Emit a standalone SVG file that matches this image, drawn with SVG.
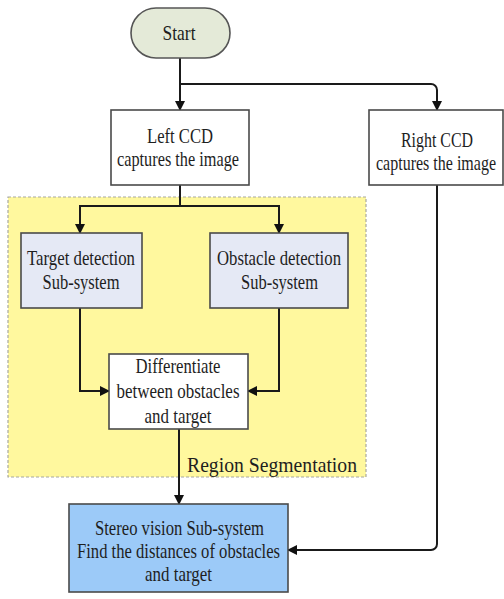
<svg xmlns="http://www.w3.org/2000/svg" width="504" height="599" viewBox="0 0 504 599" font-family="'Liberation Serif', 'DejaVu Serif', serif">
  <style>
    text { font-family: "Liberation Serif", "DejaVu Serif", serif; font-size: 22px; fill: #1e1e1e; text-anchor: middle; }
    .box { stroke: #4a4a4a; stroke-width: 1.6; }
    .plain { fill: #ffffff; }
    .sub { fill: #e5e9f5; }
    .stereo { fill: #9ccaf8; }
    .link { fill: none; stroke: #1a1a1a; stroke-width: 2; }
    .arrow { marker-end: url(#head); }
  </style>
  <defs>
    <marker id="head" viewBox="0 0 10 10" refX="9" refY="5" markerWidth="10" markerHeight="10" markerUnits="userSpaceOnUse" orient="auto">
      <path d="M0,0 L10,5 L0,10 Z" fill="#111"/>
    </marker>
  </defs>

  <!-- region segmentation area -->
  <g id="region">
    <rect x="8" y="197" width="358" height="280" fill="#fff89e" stroke="#a8a8a0" stroke-width="1.2" stroke-dasharray="3 2"/>
    <text x="272" y="472" font-size="22" textLength="170" lengthAdjust="spacingAndGlyphs">Region Segmentation</text>
  </g>

  <!-- connectors -->
  <g id="connectors">
    <path class="link arrow" d="M180,58 V110"/>
    <path class="link arrow" d="M180,84 H431 A6,6 0 0 1 437,90 V110"/>
    <path class="link arrow" d="M180,185 V206 H80 V233"/>
    <path class="link arrow" d="M180,206 H279 V233"/>
    <path class="link arrow" d="M80,308 V391 H109"/>
    <path class="link arrow" d="M279,308 V391 H248"/>
    <path class="link arrow" d="M179,429 V504"/>
    <path class="link arrow" d="M437,185 V544 A6,6 0 0 1 431,550 H288"/>
  </g>

  <g id="start">
    <rect x="131" y="8" width="99" height="50" rx="25" ry="25" fill="#e4ead8" stroke="#555" stroke-width="1.6"/>
    <text x="179" y="40" textLength="33" lengthAdjust="spacingAndGlyphs">Start</text>
  </g>

  <g id="left-ccd">
    <rect class="box plain" x="111" y="110" width="138" height="75"/>
    <text x="180" y="143" textLength="66" lengthAdjust="spacingAndGlyphs">Left CCD</text>
    <text x="178" y="166" textLength="122" lengthAdjust="spacingAndGlyphs">captures the image</text>
  </g>

  <g id="right-ccd">
    <rect class="box plain" x="369" y="110" width="134" height="75"/>
    <text x="437" y="147" textLength="72" lengthAdjust="spacingAndGlyphs">Right CCD</text>
    <text x="436" y="170" textLength="120" lengthAdjust="spacingAndGlyphs">captures the image</text>
  </g>

  <g id="target-detection">
    <rect class="box sub" x="21" y="233" width="121" height="75"/>
    <text x="81" y="265" textLength="108" lengthAdjust="spacingAndGlyphs">Target detection</text>
    <text x="81" y="289" textLength="77" lengthAdjust="spacingAndGlyphs">Sub-system</text>
  </g>

  <g id="obstacle-detection">
    <rect class="box sub" x="210" y="233" width="138" height="75"/>
    <text x="279" y="265" textLength="124" lengthAdjust="spacingAndGlyphs">Obstacle detection</text>
    <text x="279.5" y="289" textLength="77" lengthAdjust="spacingAndGlyphs">Sub-system</text>
  </g>

  <g id="differentiate">
    <rect class="box plain" x="109" y="354" width="139" height="75"/>
    <text x="178" y="373" textLength="85" lengthAdjust="spacingAndGlyphs">Differentiate</text>
    <text x="178" y="398" textLength="123" lengthAdjust="spacingAndGlyphs">between obstacles</text>
    <text x="178" y="423" textLength="67" lengthAdjust="spacingAndGlyphs">and target</text>
  </g>

  <g id="stereo-vision">
    <rect class="box stereo" x="69" y="504" width="219" height="88"/>
    <text x="179.5" y="535" textLength="169" lengthAdjust="spacingAndGlyphs">Stereo vision Sub-system</text>
    <text x="178.5" y="558" textLength="203" lengthAdjust="spacingAndGlyphs">Find the distances of obstacles</text>
    <text x="178.5" y="581" textLength="67" lengthAdjust="spacingAndGlyphs">and target</text>
  </g>
</svg>
